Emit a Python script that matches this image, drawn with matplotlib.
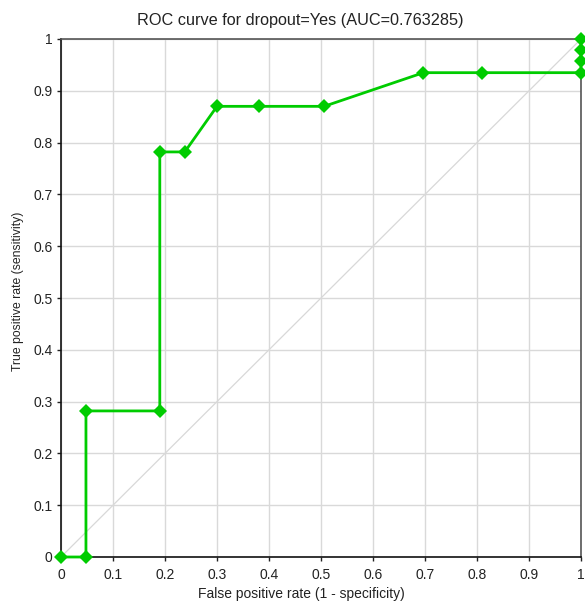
import numpy as np
import matplotlib.pyplot as plt
from matplotlib import rcParams
rcParams['font.family'] = 'sans-serif'
rcParams['font.sans-serif'] = ['Liberation Sans', 'DejaVu Sans']

# ROC points
fpr = [0.0, 0.048, 0.048, 0.19, 0.19, 0.238, 0.30, 0.38, 0.506, 0.697, 0.81, 1.0, 1.0, 1.0, 1.0]
tpr = [0.0, 0.0, 0.282, 0.282, 0.782, 0.782, 0.87, 0.87, 0.87, 0.935, 0.935, 0.935, 0.957, 0.978, 1.0]
auc = 0.763285
ticks = [0, 0.1, 0.2, 0.3, 0.4, 0.5, 0.6, 0.7, 0.8, 0.9, 1]
tick_labels = ['0', '0.1', '0.2', '0.3', '0.4', '0.5', '0.6', '0.7', '0.8', '0.9', '1']

fig = plt.figure(figsize=(5.85, 6.03), dpi=100)
ax = fig.add_axes([61/585, 1 - 557/603, 520/585, 518/603])

ax.plot([0, 1], [0, 1], color='#d8d8d8', lw=0.9, zorder=1)
ax.plot(fpr, tpr, color='#00cc00', lw=2.0, marker='D', markersize=7,
        markeredgewidth=0, clip_on=False, zorder=3)

ax.set_xlim(0, 1)
ax.set_ylim(0, 1)
ax.set_xticks(ticks)
ax.set_xticklabels(tick_labels)
ax.set_yticks(ticks)
ax.set_yticklabels(tick_labels)
ax.grid(True, color='#d9d9d9', lw=1.0)
ax.set_axisbelow(True)
ax.tick_params(direction='out', length=3, width=1, labelsize=10, colors='#222222', pad=3)
ax.tick_params(axis='x', pad=5)

for s in ['left', 'bottom']:
    ax.spines[s].set_color('#111111')
    ax.spines[s].set_linewidth(1.2)
for s in ['top', 'right']:
    ax.spines[s].set_color('#555555')
    ax.spines[s].set_linewidth(1.2)

ax.set_title(f'ROC curve for dropout=Yes (AUC={auc})', fontsize=11.7, color='#222222',
             pad=10, x=0.46)
ax.set_xlabel('False positive rate (1 - specificity)', fontsize=10, color='#222222', labelpad=3)
ax.xaxis.set_label_coords(0.463, -0.058)
ax.set_ylabel('True positive rate (sensitivity)', fontsize=8.8, color='#222222')
ax.yaxis.set_label_coords(-0.071, 0.513)

fig.savefig('out.png', dpi=100)
